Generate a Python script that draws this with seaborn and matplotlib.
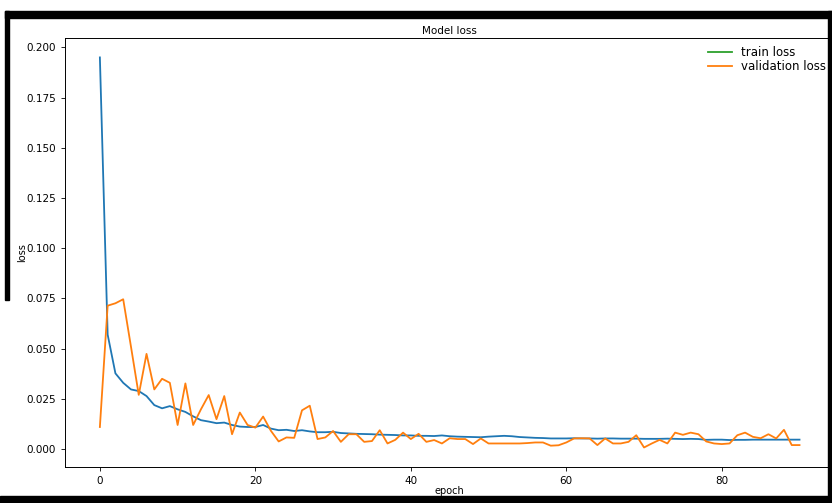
import numpy as np
import pandas as pd
import matplotlib
matplotlib.use("Agg")
import matplotlib.pyplot as plt
import seaborn as sns
from matplotlib.lines import Line2D
from matplotlib.patches import Rectangle

# valeurs (epochs 0..90)
train_loss = [
    0.195, 0.057, 0.0377, 0.033, 0.0297, 0.0289, 0.0264, 0.0219, 0.0203, 0.0214,
    0.0198, 0.0185, 0.0163, 0.0144, 0.0137, 0.0129, 0.0132, 0.0120, 0.0112, 0.0110,
    0.0110, 0.0120, 0.0102, 0.0094, 0.0096, 0.0090, 0.0094, 0.0088, 0.0084, 0.0084,
    0.0086, 0.0080, 0.0078, 0.0076, 0.0075, 0.0074, 0.0072, 0.0071, 0.0070, 0.0068,
    0.0068, 0.0066, 0.0066, 0.0065, 0.0068, 0.0064, 0.0062, 0.0061, 0.0060, 0.0059,
    0.0062, 0.0064, 0.0066, 0.0064, 0.0060, 0.0058, 0.0056, 0.0055, 0.0053, 0.0053,
    0.0053, 0.0054, 0.0053, 0.0053, 0.0052, 0.0053, 0.0053, 0.0052, 0.0052, 0.0052,
    0.0051, 0.0051, 0.0051, 0.0052, 0.0051, 0.0050, 0.0051, 0.0050, 0.0046, 0.0047,
    0.0047, 0.0045, 0.0046, 0.0046, 0.0047, 0.0047, 0.0047, 0.0047, 0.0047, 0.0047,
    0.0047,
]
val_loss = [
    0.011, 0.0714, 0.0726, 0.0746, 0.051, 0.027, 0.0474, 0.0297, 0.035, 0.033,
    0.012, 0.0327, 0.012, 0.0198, 0.0269, 0.0149, 0.0264, 0.0074, 0.0182, 0.012,
    0.0107, 0.0162, 0.0091, 0.0038, 0.0058, 0.0056, 0.0193, 0.0216, 0.0050, 0.0058,
    0.0090, 0.0036, 0.0074, 0.0074, 0.0036, 0.0040, 0.0094, 0.0028, 0.0046, 0.0082,
    0.0050, 0.0076, 0.0036, 0.0045, 0.0028, 0.0054, 0.0050, 0.0050, 0.0025, 0.0053,
    0.0028, 0.0028, 0.0028, 0.0028, 0.0028, 0.0030, 0.0033, 0.0033, 0.0017, 0.0019,
    0.0033, 0.0053, 0.0054, 0.0053, 0.0020, 0.0053, 0.0028, 0.0028, 0.0036, 0.0069,
    0.0008, 0.0028, 0.0046, 0.0028, 0.0082, 0.0071, 0.0082, 0.0074, 0.0038, 0.0028,
    0.0025, 0.0028, 0.0069, 0.0082, 0.0061, 0.0054, 0.0074, 0.0053, 0.0096, 0.0020,
    0.0020,
]
epochs = np.arange(len(train_loss))

df = pd.DataFrame({"epoch": epochs, "train": train_loss, "val": val_loss})

plt.rcParams["font.family"] = ["DejaVu Sans"]
fig = plt.figure(figsize=(8.32, 5.03), dpi=100)
ax = fig.add_axes([0.078, 0.0716, 0.925, 0.853])

sns.lineplot(data=df, x="epoch", y="train", ax=ax, color="#1f77b4", linewidth=1.3)
sns.lineplot(data=df, x="epoch", y="val", ax=ax, color="#ff7f0e", linewidth=1.3)

ax.set_title("Model loss", fontsize=7.5, pad=3)
ax.set_xlabel("epoch", fontsize=7, labelpad=0)
ax.set_ylabel("loss", fontsize=7, labelpad=-1)
ax.tick_params(labelsize=7.5, length=3, width=0.6)
ax.set_xticks([0, 20, 40, 60, 80])
for s in ax.spines.values():
    s.set_linewidth(0.7)

# legende comme dans l'original (train en vert)
handles = [Line2D([], [], color="#2ca02c", lw=1.3), Line2D([], [], color="#ff7f0e", lw=1.3)]
ax.legend(handles, ["train loss", "validation loss"], loc="upper right", fontsize=8.5,
          frameon=False, handlelength=2.0, labelspacing=0.1, borderaxespad=0.3)

# bordure noire de la capture
fig.patches.append(Rectangle((5 / 832, 1 - 18 / 503), 1, 7 / 503, transform=fig.transFigure,
                             color="black", zorder=10))
fig.patches.append(Rectangle((828 / 832, 0), 4 / 832, 1 - 11 / 503, transform=fig.transFigure,
                             color="black", zorder=10))
fig.patches.append(Rectangle((0, 0), 1, 7 / 503, transform=fig.transFigure,
                             color="black", zorder=10))
fig.patches.append(Rectangle((5 / 832, 1 - 300 / 503), 4 / 832, 289 / 503, transform=fig.transFigure,
                             color="black", zorder=10))

fig.savefig("out.png", dpi=100)
